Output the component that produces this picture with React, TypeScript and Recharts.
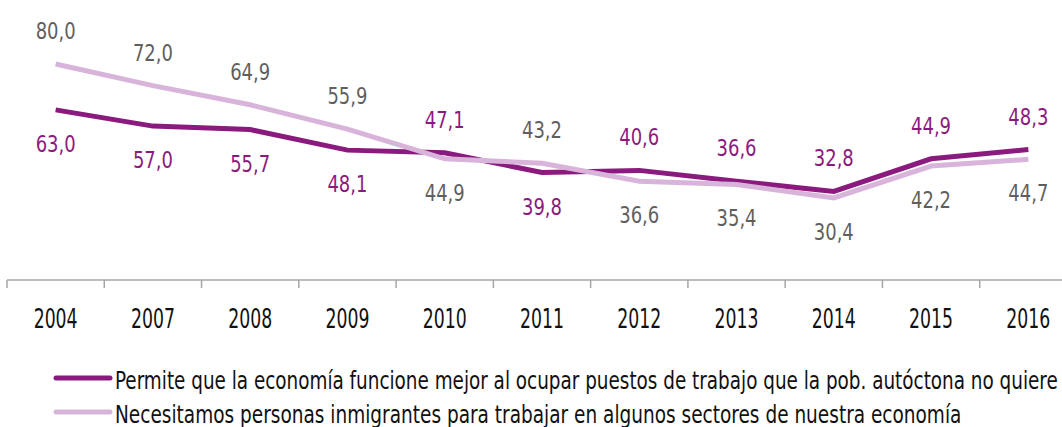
import { useLayoutEffect, useRef, useState } from "react"
import { LineChart, Line, XAxis, YAxis, Legend, LabelList } from "recharts"

const years = ["2004", "2007", "2008", "2009", "2010", "2011", "2012", "2013", "2014", "2015", "2016"]
const mejorEconomia = [63.0, 57.0, 55.7, 48.1, 47.1, 39.8, 40.6, 36.6, 32.8, 44.9, 48.3]
const necesitamos = [80.0, 72.0, 64.9, 55.9, 44.9, 43.2, 36.6, 35.4, 30.4, 42.2, 44.7]
const seriesNames = [
  "Permite que la economía funcione mejor al ocupar puestos de trabajo que la pob. autóctona no quiere",
  "Necesitamos personas inmigrantes para trabajar en algunos sectores de nuestra economía",
]

const DARK = "#8b1a7e"
const LIGHT = "#d8b4da"
const FONT = "'DejaVu Sans Condensed', 'DejaVu Sans', sans-serif"

// points where the dark line sits below the light one
const darkBelow = new Set([0, 1, 2, 3, 5])

const data = years.map((year, i) => ({
  year,
  mejor: mejorEconomia[i],
  necesitamos: necesitamos[i],
}))

const fmt = (v: number) => v.toFixed(1).replace(".", ",")

// squeezes a text horizontally to a given width (the original uses a narrow font)
function FitText({ x, y, width, children, ...rest }: any) {
  const ref = useRef<SVGTextElement>(null)
  const [k, setK] = useState(1)
  useLayoutEffect(() => {
    const len = ref.current ? ref.current.getComputedTextLength() : 0
    if (len > 0) setK(width / len)
  }, [width, children])
  return (
    <text ref={ref} transform={`translate(${x},${y}) scale(${k},1)`} x={0} y={0} fontFamily={FONT} {...rest}>
      {children}
    </text>
  )
}

const makeLabel = (color: string, isDark: boolean) => (props: any) => {
  const { x, y, value, index } = props
  const below = isDark ? darkBelow.has(index) : !darkBelow.has(index)
  return (
    <FitText
      x={x - 20}
      y={below ? y + 34 : y - 33}
      width={40}
      dominantBaseline="central"
      fill={color}
      fontSize={23}
    >
      {fmt(value)}
    </FitText>
  )
}

const YearTick = (props: any) => {
  const { x, y, payload, width, visibleTicksCount } = props
  const bw = width / visibleTicksCount
  return (
    <g>
      <line x1={x - bw / 2} x2={x - bw / 2} y1={y - 8} y2={y} stroke="#a6a6a6" strokeWidth={1.5} />
      <FitText x={x - 22} y={y + 40} width={44} fill="#111" fontSize={27}>
        {payload.value}
      </FitText>
    </g>
  )
}

const legendWidths = [943, 847]

const renderLegend = () => (
  <svg width={1062} height={67} style={{ display: "block", overflow: "visible" }}>
    {[DARK, LIGHT].map((c, i) => (
      <g key={i}>
        <line x1={56} x2={110} y1={18 + i * 34} y2={18 + i * 34} stroke={c} strokeWidth={5} strokeLinecap="round" />
        <FitText
          x={115}
          y={28.5 + i * 34}
          width={legendWidths[i]}
          fill="#111"
          fontSize={i === 0 ? 25 : 24.5}
        >
          {seriesNames[i]}
        </FitText>
      </g>
    ))}
  </svg>
)

export default function App() {
  return (
    <div style={{ position: "absolute", left: 0, top: 0, width: 1062, height: 427, overflow: "hidden", background: "#fff" }}>
      <LineChart width={1062} height={427} data={data} margin={{ top: 10, right: -15, bottom: 0, left: 7 }}>
        <XAxis
          dataKey="year"
          scale="band"
          stroke="#a6a6a6"
          strokeWidth={1.5}
          tickLine={false}
          tickSize={8}
          tickMargin={0}
          height={80}
          interval={0}
          tick={<YearTick />}
        />
        <YAxis hide domain={[0, 100]} />
        <Legend
          verticalAlign="bottom"
          align="left"
          height={67}
          content={renderLegend}
          wrapperStyle={{ left: 0 }}
        />
        <Line
          dataKey="mejor"
          name={seriesNames[0]}
          stroke={DARK}
          strokeWidth={5}
          dot={false}
          isAnimationActive={false}
        >
          <LabelList dataKey="mejor" content={makeLabel(DARK, true)} />
        </Line>
        <Line
          dataKey="necesitamos"
          name={seriesNames[1]}
          stroke={LIGHT}
          strokeWidth={5}
          dot={false}
          isAnimationActive={false}
        >
          <LabelList dataKey="necesitamos" content={makeLabel("#5f5f5f", false)} />
        </Line>
      </LineChart>
    </div>
  )
}
